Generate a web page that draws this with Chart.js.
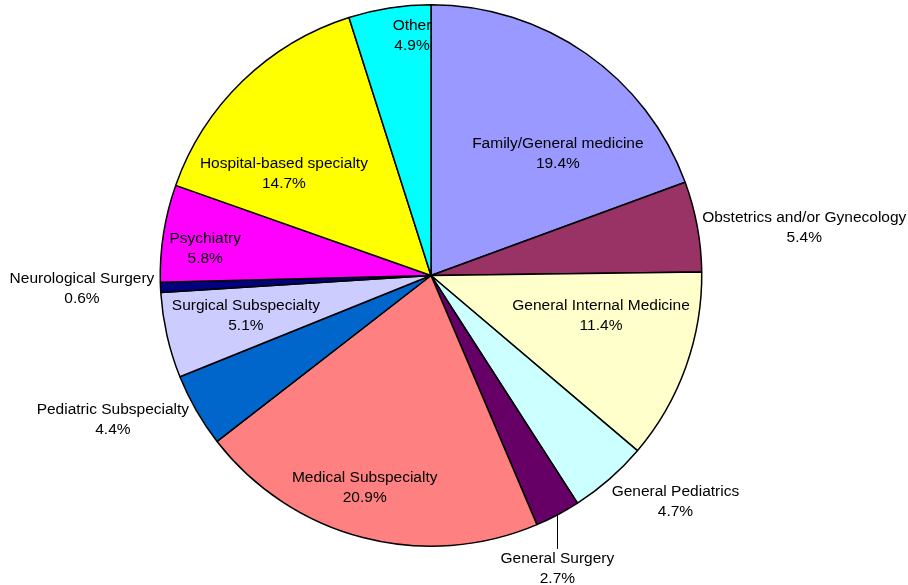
<!DOCTYPE html>
<html>
<head>
<meta charset="utf-8">
<script src="https://cdn.jsdelivr.net/npm/chart.js@4"></script>
<style>
  html, body { margin: 0; padding: 0; background: #fff; }
  #wrap { width: 908px; height: 585px; }
</style>
</head>
<body>
<div id="wrap"><canvas id="chart"></canvas></div>
<script>
// specialty shares, clockwise from 12 o'clock
const categories = [
  "Family/General medicine",
  "Obstetrics and/or Gynecology",
  "General Internal Medicine",
  "General Pediatrics",
  "General Surgery",
  "Medical Subspecialty",
  "Pediatric Subspecialty",
  "Surgical Subspecialty",
  "Neurological Surgery",
  "Psychiatry",
  "Hospital-based specialty",
  "Other"
];
const shares = [19.4, 5.4, 11.4, 4.7, 2.7, 20.9, 4.4, 5.1, 0.6, 5.8, 14.7, 4.9];

const sliceColors = [
  "#9999FF", "#993366", "#FFFFCC", "#CCFFFF", "#660066", "#FF8080",
  "#0066CC", "#CCCCFF", "#000080", "#FF00FF", "#FFFF00", "#00FFFF"
];

// label placement: angle shift from slice middle (deg), distance as fraction of radius
const labelShift = [11.2, 3.1, -6.6, -6.0, 4.6, 2.8, 5.5, 0.4, 0.4, -2.2, -11.3, 4.3];
const labelDist  = [0.65, 1.39, 0.645, 1.23, 1.18, 0.82, 1.29, 0.70, 1.29, 0.84, 0.66, 0.89];
const leaderLine = [false, false, false, false, true, false, false, false, false, false, false, false];

const sliceLabels = {
  id: "sliceLabels",
  afterDatasetsDraw(chart) {
    const ctx = chart.ctx;
    const arcs = chart.getDatasetMeta(0).data;
    ctx.save();
    ctx.font = "15.5px 'Liberation Sans', Arial, sans-serif";
    ctx.fillStyle = "#000";
    ctx.textAlign = "center";
    ctx.textBaseline = "middle";
    arcs.forEach((arc, i) => {
      const p = arc.getProps(["x", "y", "startAngle", "endAngle", "outerRadius"], true);
      const mid = (p.startAngle + p.endAngle) / 2 + labelShift[i] * Math.PI / 180;
      const d = p.outerRadius * labelDist[i];
      const lx = p.x + Math.cos(mid) * d;
      const ly = p.y + Math.sin(mid) * d;
      ctx.fillText(categories[i], lx, ly - 10);
      ctx.fillText(shares[i].toFixed(1) + "%", lx, ly + 10);
      if (leaderLine[i]) {
        const dx = lx - p.x;
        const edgeY = p.y + Math.sqrt(p.outerRadius * p.outerRadius - dx * dx);
        ctx.strokeStyle = "#000";
        ctx.lineWidth = 1;
        ctx.beginPath();
        ctx.moveTo(Math.round(lx) + 0.5, edgeY);
        ctx.lineTo(Math.round(lx) + 0.5, ly - 20);
        ctx.stroke();
      }
    });
    ctx.restore();
  }
};

new Chart(document.getElementById("chart"), {
  type: "pie",
  data: {
    labels: categories,
    datasets: [{
      data: shares,
      backgroundColor: sliceColors,
      borderColor: "#000",
      borderWidth: 1.5
    }]
  },
  options: {
    responsive: true,
    maintainAspectRatio: false,
    animation: false,
    layout: { padding: { left: 0, right: 46, top: 4, bottom: 38 } },
    plugins: {
      legend: { display: false },
      tooltip: { enabled: false }
    }
  },
  plugins: [sliceLabels]
});
</script>
</body>
</html>
